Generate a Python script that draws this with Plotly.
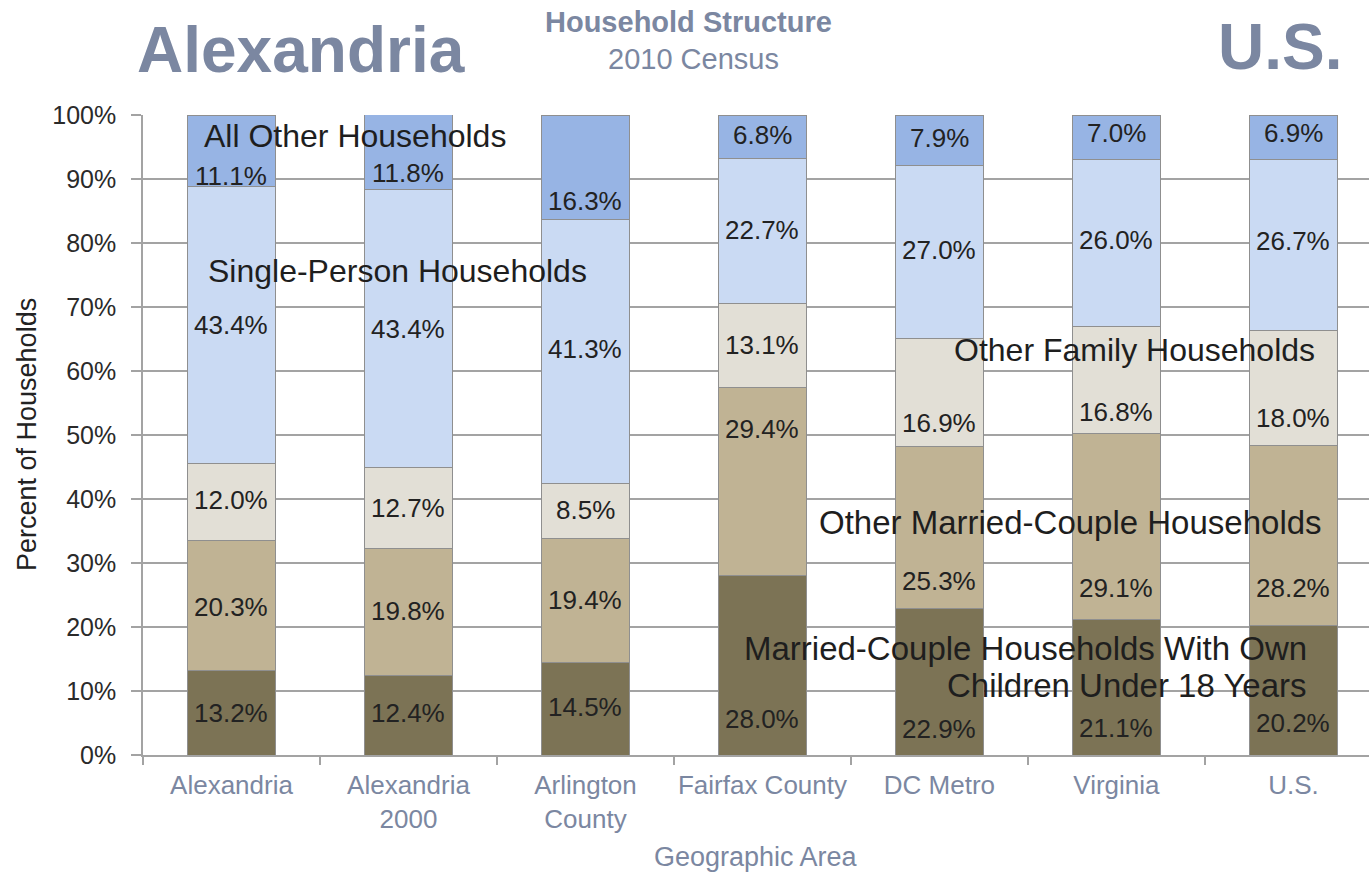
import plotly.graph_objects as go

# Geographic areas (category axis)
areas = ["Alexandria", "Alexandria<br>2000", "Arlington<br>County", "Fairfax County",
         "DC Metro", "Virginia", "U.S."]

# Household structure shares (% of households), bottom to top of each stack
married_with_children = [13.2, 12.4, 14.5, 28.0, 22.9, 21.1, 20.2]
other_married = [20.3, 19.8, 19.4, 29.4, 25.3, 29.1, 28.2]
other_family = [12.0, 12.7, 8.5, 13.1, 16.9, 16.8, 18.0]
single_person = [43.4, 43.4, 41.3, 22.7, 27.0, 26.0, 26.7]
all_other = [11.1, 11.8, 16.3, 6.8, 7.9, 7.0, 6.9]

y_tick_values = [0, 10, 20, 30, 40, 50, 60, 70, 80, 90, 100]
y_tick_labels = [f"{v}%" for v in y_tick_values]

series = [
    ("Married-Couple Households With Own Children Under 18 Years", married_with_children, "#7c7355"),
    ("Other Married-Couple Households", other_married, "#c0b394"),
    ("Other Family Households", other_family, "#e2dfd6"),
    ("Single-Person Households", single_person, "#cadaf3"),
    ("All Other Households", all_other, "#97b4e4"),
]

# Where each value label sits inside its segment (0 = bottom, 1 = top)
label_frac = [
    [0.50, 0.53, 0.52, 0.20, 0.18, 0.20, 0.25],
    [0.49, 0.51, 0.50, 0.78, 0.17, 0.17, 0.21],
    [0.53, 0.50, 0.52, 0.51, 0.22, 0.20, 0.24],
    [0.50, 0.50, 0.51, 0.51, 0.51, 0.52, 0.52],
    [0.14, 0.22, 0.18, 0.54, 0.54, 0.60, 0.59],
]

FONT = "Arial, Liberation Sans, sans-serif"
SLATE = "#7b87a1"
GRID = "#a3a3a3"

fig = go.Figure()
for name, vals, color in series:
    fig.add_trace(go.Bar(
        x=areas, y=vals, name=name, width=0.5,
        marker=dict(color=color, line=dict(color="#8f8f8f", width=1)),
        hoverinfo="x+y+name",
    ))

annotations = []

# Value labels inside each segment
base = [0.0] * len(areas)
for (name, vals, color), fracs in zip(series, label_frac):
    for i, v in enumerate(vals):
        annotations.append(dict(
            x=i, y=base[i] + v * fracs[i], xref="x", yref="y",
            text=f"{v:.1f}%", showarrow=False,
            font=dict(family=FONT, size=26, color="#222222"),
            xanchor="center", yanchor="middle",
        ))
        base[i] += v

# Series names written across the bars
cat_font = dict(family=FONT, size=32, color="#1e1e1e")
cat_font_lg = dict(family=FONT, size=33, color="#1e1e1e")
annotations += [
    dict(x=0.70, y=96.7, xref="x", yref="y", text="All Other Households",
         showarrow=False, font=cat_font),
    dict(x=0.94, y=75.6, xref="x", yref="y", text="Single-Person Households",
         showarrow=False, font=cat_font),
    dict(x=5.10, y=63.3, xref="x", yref="y", text="Other Family Households",
         showarrow=False, font=cat_font),
    dict(x=4.74, y=36.4, xref="x", yref="y", text="Other Married-Couple Households",
         showarrow=False, font=cat_font_lg),
    dict(x=6.09, y=16.6, xref="x", yref="y", text="Married-Couple Households With Own",
         showarrow=False, font=cat_font_lg, xanchor="right"),
    dict(x=6.09, y=10.9, xref="x", yref="y", text="Children Under 18 Years",
         showarrow=False, font=cat_font_lg, xanchor="right"),
]

# Headings and axis titles (paper coordinates, centred on their anchor point)
def paper_text(x, y, text, size, color, angle=0):
    return dict(x=x, y=y, xref="paper", yref="paper", text=text, textangle=angle,
                showarrow=False, xanchor="center", yanchor="middle",
                font=dict(family=FONT, size=size, color=color))

annotations += [
    paper_text(0.129, 1.102, "<b>Alexandria</b>", 64, SLATE),
    paper_text(0.927, 1.106, "<b>U.S.</b>", 64, SLATE),
    paper_text(0.445, 1.145, "<b>Household Structure</b>", 29, SLATE),
    paper_text(0.449, 1.088, "2010 Census", 29, SLATE),
    paper_text(-0.0946, 0.5, "Percent of Households", 27, "#222222", angle=-90),
    paper_text(0.5, -0.159, "Geographic Area", 27, SLATE),
]

fig.update_layout(
    width=1369, height=873,
    barmode="stack", showlegend=False,
    paper_bgcolor="white", plot_bgcolor="white",
    margin=dict(l=143, r=0, t=115, b=118, autoexpand=False),
    annotations=annotations,
    bargap=0.5,
)
fig.update_xaxes(
    type="category", range=[-0.5, 6.427], automargin=False, tickangle=0,
    tickson="boundaries", ticks="outside", ticklen=8, tickcolor=GRID, tickwidth=1.5,
    showline=True, linecolor=GRID, linewidth=1.5,
    showgrid=False,
    tickfont=dict(family=FONT, size=26, color=SLATE),
    ticklabelstandoff=6,
)
fig.update_yaxes(
    range=[0, 100], tickmode="array", tickvals=y_tick_values, ticktext=y_tick_labels,
    automargin=False,
    ticks="outside", ticklen=10, tickcolor=GRID, tickwidth=1.5,
    showline=True, linecolor=GRID, linewidth=1.5,
    showgrid=True, gridcolor=GRID, gridwidth=1.5,
    tickfont=dict(family=FONT, size=25, color="#2a2a2a"),
    ticklabelstandoff=10,
    zeroline=False,
)

fig.write_html("out.html")
